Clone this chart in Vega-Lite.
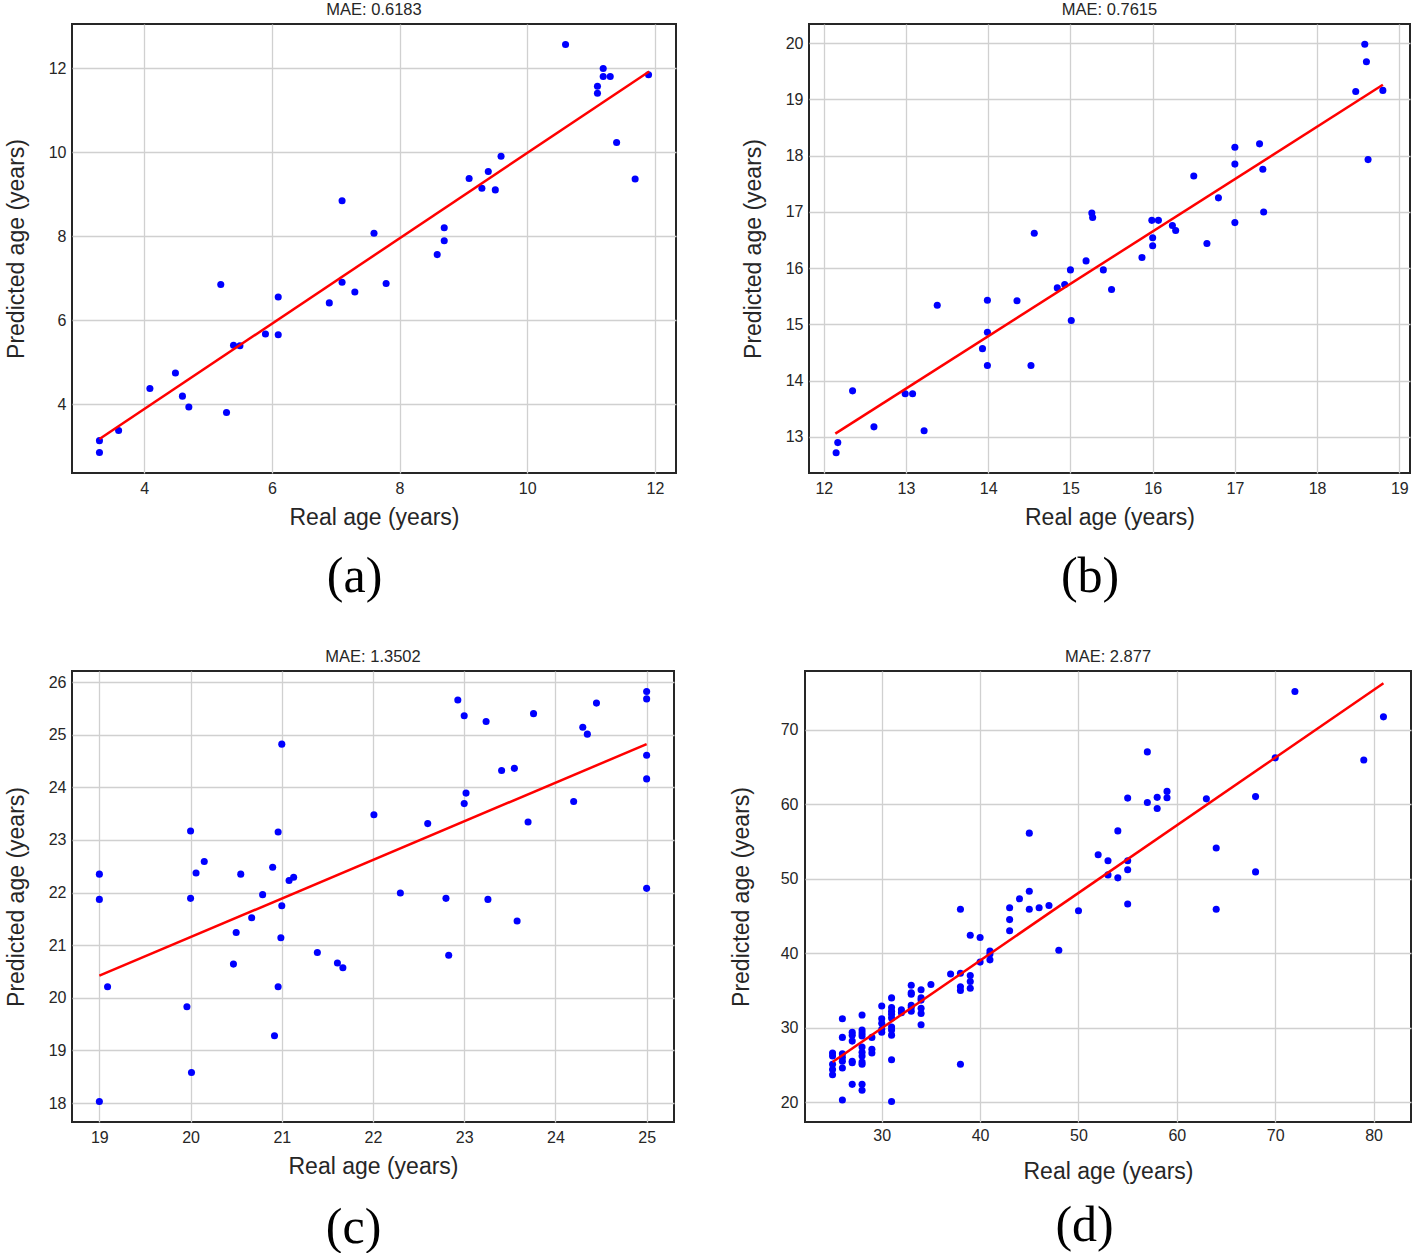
{
  "$schema": "https://vega.github.io/schema/vega-lite/v6.json",
  "padding": {"left": 4, "top": 0, "right": 0, "bottom": 0},
  "background": "white",
  "config": {
    "view": {"stroke": "#262626", "strokeWidth": 2},
    "font": "Liberation Sans",
    "title": {"font": "Liberation Sans", "fontSize": 16.5, "fontWeight": "normal", "color": "#262626", "offset": 6, "anchor": "middle"},
    "axis": {
      "labelFont": "Liberation Sans", "labelFontSize": 16, "labelColor": "#262626",
      "titleFont": "Liberation Sans", "titleFontSize": 23, "titleFontWeight": "normal", "titleColor": "#262626",
      "tickSize": 0, "domain": false, "gridColor": "#d0d0d0", "gridWidth": 1.3, "labelFlush": false, "labelOverlap": false, "format": "d"
    },
    "axisX": {"labelPadding": 7, "titlePadding": 10},
    "axisY": {"labelPadding": 6, "titlePadding": 20},
    "concat": {"spacing": 0}
  },
  "datasets": {
    "a_pts": [
      {"real": 3.30, "pred": 3.13}, {"real": 3.30, "pred": 2.85}, {"real": 3.60, "pred": 3.37}, {"real": 4.09, "pred": 4.37},
      {"real": 4.49, "pred": 4.74}, {"real": 4.60, "pred": 4.19}, {"real": 4.70, "pred": 3.93}, {"real": 5.20, "pred": 6.85},
      {"real": 5.29, "pred": 3.80}, {"real": 5.40, "pred": 5.40}, {"real": 5.50, "pred": 5.39}, {"real": 5.90, "pred": 5.67},
      {"real": 6.10, "pred": 6.55}, {"real": 6.10, "pred": 5.65}, {"real": 6.90, "pred": 6.41}, {"real": 7.10, "pred": 8.84},
      {"real": 7.10, "pred": 6.90}, {"real": 7.30, "pred": 6.67}, {"real": 7.60, "pred": 8.07}, {"real": 7.79, "pred": 6.87},
      {"real": 8.59, "pred": 7.56}, {"real": 8.70, "pred": 8.20}, {"real": 8.70, "pred": 7.89}, {"real": 9.09, "pred": 9.37},
      {"real": 9.29, "pred": 9.14}, {"real": 9.39, "pred": 9.54}, {"real": 9.50, "pred": 9.10}, {"real": 9.59, "pred": 9.90},
      {"real": 10.60, "pred": 12.56}, {"real": 11.10, "pred": 11.57}, {"real": 11.10, "pred": 11.40}, {"real": 11.19, "pred": 11.99},
      {"real": 11.19, "pred": 11.80}, {"real": 11.30, "pred": 11.80}, {"real": 11.40, "pred": 10.23}, {"real": 11.69, "pred": 9.36},
      {"real": 11.90, "pred": 11.84}
    ],
    "a_line": [{"real": 3.30, "pred": 3.17}, {"real": 11.91, "pred": 11.92}],
    "b_pts": [
      {"real": 12.15, "pred": 12.72}, {"real": 12.17, "pred": 12.90}, {"real": 12.35, "pred": 13.82}, {"real": 12.61, "pred": 13.18},
      {"real": 12.99, "pred": 13.77}, {"real": 13.08, "pred": 13.77}, {"real": 13.22, "pred": 13.11}, {"real": 13.38, "pred": 15.34},
      {"real": 13.93, "pred": 14.57}, {"real": 13.99, "pred": 15.43}, {"real": 13.99, "pred": 14.86}, {"real": 13.99, "pred": 14.27},
      {"real": 14.35, "pred": 15.42}, {"real": 14.52, "pred": 14.27}, {"real": 14.56, "pred": 16.62}, {"real": 14.84, "pred": 15.65},
      {"real": 14.93, "pred": 15.71}, {"real": 15.00, "pred": 15.97}, {"real": 15.01, "pred": 15.07}, {"real": 15.19, "pred": 16.13},
      {"real": 15.26, "pred": 16.98}, {"real": 15.27, "pred": 16.90}, {"real": 15.40, "pred": 15.97}, {"real": 15.50, "pred": 15.62},
      {"real": 15.87, "pred": 16.19}, {"real": 15.99, "pred": 16.85}, {"real": 16.07, "pred": 16.85}, {"real": 16.00, "pred": 16.54},
      {"real": 16.00, "pred": 16.40}, {"real": 16.24, "pred": 16.76}, {"real": 16.28, "pred": 16.67}, {"real": 16.50, "pred": 17.64},
      {"real": 16.66, "pred": 16.44}, {"real": 16.80, "pred": 17.25}, {"real": 17.00, "pred": 18.15}, {"real": 17.00, "pred": 17.85},
      {"real": 17.00, "pred": 16.81}, {"real": 17.30, "pred": 18.21}, {"real": 17.34, "pred": 17.76}, {"real": 17.35, "pred": 17.00},
      {"real": 18.47, "pred": 19.14}, {"real": 18.58, "pred": 19.98}, {"real": 18.60, "pred": 19.67}, {"real": 18.62, "pred": 17.93},
      {"real": 18.80, "pred": 19.16}
    ],
    "b_line": [{"real": 12.14, "pred": 13.06}, {"real": 18.80, "pred": 19.26}],
    "c_pts": [
      {"real": 19.00, "pred": 22.35}, {"real": 19.00, "pred": 21.87}, {"real": 19.00, "pred": 18.03}, {"real": 19.09, "pred": 20.21},
      {"real": 19.96, "pred": 19.83}, {"real": 20.00, "pred": 23.17}, {"real": 20.00, "pred": 21.89}, {"real": 20.01, "pred": 18.58},
      {"real": 20.06, "pred": 22.37}, {"real": 20.15, "pred": 22.59}, {"real": 20.47, "pred": 20.64}, {"real": 20.50, "pred": 21.24},
      {"real": 20.55, "pred": 22.35}, {"real": 20.67, "pred": 21.52}, {"real": 20.79, "pred": 21.96}, {"real": 20.90, "pred": 22.48},
      {"real": 20.92, "pred": 19.28}, {"real": 20.96, "pred": 23.15}, {"real": 20.96, "pred": 20.21}, {"real": 20.99, "pred": 21.14},
      {"real": 21.00, "pred": 24.82}, {"real": 21.00, "pred": 21.75}, {"real": 21.08, "pred": 22.23}, {"real": 21.13, "pred": 22.29},
      {"real": 21.39, "pred": 20.86}, {"real": 21.61, "pred": 20.66}, {"real": 21.67, "pred": 20.57}, {"real": 22.01, "pred": 23.48},
      {"real": 22.30, "pred": 21.99}, {"real": 22.60, "pred": 23.31}, {"real": 22.80, "pred": 21.89}, {"real": 22.83, "pred": 20.81},
      {"real": 22.93, "pred": 25.66}, {"real": 23.00, "pred": 25.36}, {"real": 23.00, "pred": 23.69}, {"real": 23.02, "pred": 23.89},
      {"real": 23.24, "pred": 25.25}, {"real": 23.26, "pred": 21.87}, {"real": 23.41, "pred": 24.32}, {"real": 23.55, "pred": 24.36},
      {"real": 23.58, "pred": 21.46}, {"real": 23.70, "pred": 23.34}, {"real": 23.76, "pred": 25.40}, {"real": 24.20, "pred": 23.73},
      {"real": 24.30, "pred": 25.14}, {"real": 24.35, "pred": 25.01}, {"real": 24.45, "pred": 25.60}, {"real": 25.00, "pred": 25.82},
      {"real": 25.00, "pred": 25.68}, {"real": 25.00, "pred": 24.61}, {"real": 25.00, "pred": 24.16}, {"real": 25.00, "pred": 22.08}
    ],
    "c_line": [{"real": 19.0, "pred": 20.42}, {"real": 25.0, "pred": 24.82}],
    "d_pts": [
      {"real": 25, "pred": 26.6}, {"real": 25, "pred": 26.2}, {"real": 25, "pred": 25.1}, {"real": 25, "pred": 24.4}, {"real": 25, "pred": 23.7},
      {"real": 26, "pred": 31.2}, {"real": 26, "pred": 28.7}, {"real": 26, "pred": 26.5}, {"real": 26, "pred": 26.0}, {"real": 26, "pred": 25.5}, {"real": 26, "pred": 24.6}, {"real": 26, "pred": 20.3},
      {"real": 27, "pred": 29.4}, {"real": 27, "pred": 29.0}, {"real": 27, "pred": 28.2}, {"real": 27, "pred": 25.5}, {"real": 27, "pred": 25.3}, {"real": 27, "pred": 22.4},
      {"real": 28, "pred": 31.7}, {"real": 28, "pred": 29.7}, {"real": 28, "pred": 29.3}, {"real": 28, "pred": 28.9}, {"real": 28, "pred": 27.4}, {"real": 28, "pred": 26.7},
      {"real": 28, "pred": 26.2}, {"real": 28, "pred": 25.4}, {"real": 28, "pred": 25.1}, {"real": 28, "pred": 22.4}, {"real": 28, "pred": 21.6},
      {"real": 29, "pred": 28.7}, {"real": 29, "pred": 27.1}, {"real": 29, "pred": 26.6},
      {"real": 30, "pred": 32.9}, {"real": 30, "pred": 31.2}, {"real": 30, "pred": 30.6}, {"real": 30, "pred": 29.8}, {"real": 30, "pred": 29.4},
      {"real": 31, "pred": 34.0}, {"real": 31, "pred": 32.7}, {"real": 31, "pred": 32.2}, {"real": 31, "pred": 31.8}, {"real": 31, "pred": 31.3},
      {"real": 31, "pred": 30.1}, {"real": 31, "pred": 29.7}, {"real": 31, "pred": 29.0}, {"real": 31, "pred": 25.7}, {"real": 31, "pred": 20.1},
      {"real": 32, "pred": 32.4}, {"real": 32, "pred": 32.0},
      {"real": 33, "pred": 35.7}, {"real": 33, "pred": 34.7}, {"real": 33, "pred": 34.5}, {"real": 33, "pred": 33.0}, {"real": 33, "pred": 32.7}, {"real": 33, "pred": 32.2},
      {"real": 34, "pred": 35.1}, {"real": 34, "pred": 34.0}, {"real": 34, "pred": 33.7}, {"real": 34, "pred": 32.6}, {"real": 34, "pred": 31.9}, {"real": 34, "pred": 30.4},
      {"real": 35, "pred": 35.8}, {"real": 37, "pred": 37.2},
      {"real": 38, "pred": 45.9}, {"real": 38, "pred": 37.3}, {"real": 38, "pred": 35.5}, {"real": 38, "pred": 35.0}, {"real": 38, "pred": 25.1},
      {"real": 39, "pred": 42.4}, {"real": 39, "pred": 37.0}, {"real": 39, "pred": 36.2}, {"real": 39, "pred": 35.3},
      {"real": 40, "pred": 42.1}, {"real": 40, "pred": 38.8},
      {"real": 41, "pred": 40.3}, {"real": 41, "pred": 39.9}, {"real": 41, "pred": 39.1},
      {"real": 43, "pred": 46.1}, {"real": 43, "pred": 44.5}, {"real": 43, "pred": 43.0},
      {"real": 44, "pred": 47.3},
      {"real": 45, "pred": 56.1}, {"real": 45, "pred": 48.3}, {"real": 45, "pred": 45.9},
      {"real": 46, "pred": 46.1}, {"real": 47, "pred": 46.4}, {"real": 48, "pred": 40.4}, {"real": 50, "pred": 45.7},
      {"real": 52, "pred": 53.2}, {"real": 53, "pred": 52.4}, {"real": 53, "pred": 50.5}, {"real": 54, "pred": 56.4}, {"real": 54, "pred": 50.1},
      {"real": 55, "pred": 60.8}, {"real": 55, "pred": 52.4}, {"real": 55, "pred": 51.2}, {"real": 55, "pred": 46.6},
      {"real": 57, "pred": 67.0}, {"real": 57, "pred": 60.2}, {"real": 58, "pred": 60.9}, {"real": 58, "pred": 59.4},
      {"real": 59, "pred": 61.7}, {"real": 59, "pred": 60.85}, {"real": 63, "pred": 60.7}, {"real": 64, "pred": 54.1}, {"real": 64, "pred": 45.9},
      {"real": 68, "pred": 61.0}, {"real": 68, "pred": 50.9}, {"real": 70, "pred": 66.2}, {"real": 72, "pred": 75.1}, {"real": 79, "pred": 65.9}, {"real": 81, "pred": 71.7}
    ],
    "d_line": [{"real": 25, "pred": 25.4}, {"real": 81, "pred": 76.2}]
  },
  "spacing": 45,
  "vconcat": [
    {
      "spacing": 64,
      "hconcat": [
        {
          "title": {"text": "(a)", "orient": "bottom", "font": "Liberation Serif", "fontSize": 50, "fontWeight": "normal", "color": "#000000", "offset": 22, "dx": 14},
          "vconcat": [{
            "title": "MAE: 0.6183",
            "width": 604, "height": 449,
            "layer": [
              {"data": {"name": "a_pts"}, "mark": {"type": "circle", "size": 50, "color": "#0000ff", "opacity": 1},
               "encoding": {
                 "x": {"field": "real", "type": "quantitative", "scale": {"domain": [2.87, 12.33], "nice": false, "zero": false}, "axis": {"values": [4, 6, 8, 10, 12], "title": "Real age (years)"}},
                 "y": {"field": "pred", "type": "quantitative", "scale": {"domain": [2.36, 13.05], "nice": false, "zero": false}, "axis": {"values": [4, 6, 8, 10, 12], "title": "Predicted age (years)"}}
               }},
              {"data": {"name": "a_line"}, "mark": {"type": "line", "color": "#ff0000", "strokeWidth": 2.5},
               "encoding": {"x": {"field": "real", "type": "quantitative"}, "y": {"field": "pred", "type": "quantitative"}}}
            ]
          }]
        },
        {
          "title": {"text": "(b)", "orient": "bottom", "font": "Liberation Serif", "fontSize": 50, "fontWeight": "normal", "color": "#000000", "offset": 22, "dx": 14},
          "vconcat": [{
            "title": "MAE: 0.7615",
            "width": 601, "height": 449,
            "layer": [
              {"data": {"name": "b_pts"}, "mark": {"type": "circle", "size": 50, "color": "#0000ff", "opacity": 1},
               "encoding": {
                 "x": {"field": "real", "type": "quantitative", "scale": {"domain": [11.82, 19.13], "nice": false, "zero": false}, "axis": {"values": [12, 13, 14, 15, 16, 17, 18, 19], "title": "Real age (years)"}},
                 "y": {"field": "pred", "type": "quantitative", "scale": {"domain": [12.36, 20.34], "nice": false, "zero": false}, "axis": {"values": [13, 14, 15, 16, 17, 18, 19, 20], "title": "Predicted age (years)"}}
               }},
              {"data": {"name": "b_line"}, "mark": {"type": "line", "color": "#ff0000", "strokeWidth": 2.5},
               "encoding": {"x": {"field": "real", "type": "quantitative"}, "y": {"field": "pred", "type": "quantitative"}}}
            ]
          }]
        }
      ]
    },
    {
      "spacing": 54,
      "hconcat": [
        {
          "title": {"text": "(c)", "orient": "bottom", "font": "Liberation Serif", "fontSize": 50, "fontWeight": "normal", "color": "#000000", "offset": 24, "dx": 14},
          "vconcat": [{
            "title": "MAE: 1.3502",
            "width": 602, "height": 451,
            "layer": [
              {"data": {"name": "c_pts"}, "mark": {"type": "circle", "size": 50, "color": "#0000ff", "opacity": 1},
               "encoding": {
                 "x": {"field": "real", "type": "quantitative", "scale": {"domain": [18.7, 25.3], "nice": false, "zero": false}, "axis": {"values": [19, 20, 21, 22, 23, 24, 25], "title": "Real age (years)"}},
                 "y": {"field": "pred", "type": "quantitative", "scale": {"domain": [17.64, 26.21], "nice": false, "zero": false}, "axis": {"values": [18, 19, 20, 21, 22, 23, 24, 25, 26], "title": "Predicted age (years)"}}
               }},
              {"data": {"name": "c_line"}, "mark": {"type": "line", "color": "#ff0000", "strokeWidth": 2.5},
               "encoding": {"x": {"field": "real", "type": "quantitative"}, "y": {"field": "pred", "type": "quantitative"}}}
            ]
          }]
        },
        {
          "title": {"text": "(d)", "orient": "bottom", "font": "Liberation Serif", "fontSize": 50, "fontWeight": "normal", "color": "#000000", "offset": 17, "dx": 14},
          "vconcat": [{
            "title": "MAE: 2.877",
            "width": 606, "height": 451,
            "layer": [
              {"data": {"name": "d_pts"}, "mark": {"type": "circle", "size": 50, "color": "#0000ff", "opacity": 1},
               "encoding": {
                 "x": {"field": "real", "type": "quantitative", "scale": {"domain": [22.2, 83.8], "nice": false, "zero": false}, "axis": {"values": [30, 40, 50, 60, 70, 80], "title": "Real age (years)", "labelPadding": 5, "titlePadding": 17}},
                 "y": {"field": "pred", "type": "quantitative", "scale": {"domain": [17.35, 77.85], "nice": false, "zero": false}, "axis": {"values": [20, 30, 40, 50, 60, 70], "title": "Predicted age (years)", "labelPadding": 7, "titlePadding": 27}}
               }},
              {"data": {"name": "d_line"}, "mark": {"type": "line", "color": "#ff0000", "strokeWidth": 2.5},
               "encoding": {"x": {"field": "real", "type": "quantitative"}, "y": {"field": "pred", "type": "quantitative"}}}
            ]
          }]
        }
      ]
    }
  ]
}
